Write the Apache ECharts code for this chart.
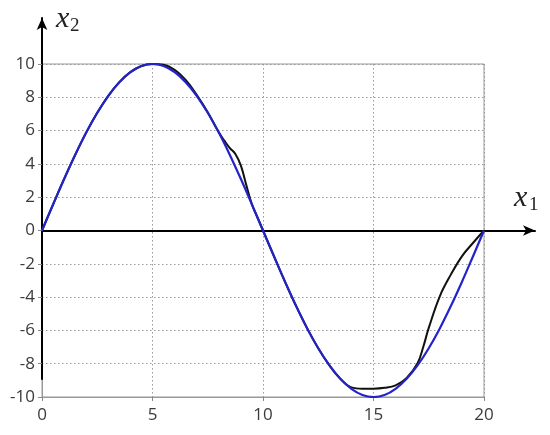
<!DOCTYPE html>
<html>
<head>
<meta charset="utf-8">
<script src="https://cdn.jsdelivr.net/npm/echarts@6/dist/echarts.min.js"></script>
<style>
  html, body { margin: 0; padding: 0; background: #fff; }
  #chart { width: 550px; height: 435px; }
</style>
</head>
<body>
<div id="chart"></div>
<script>
  // blue curve, every 0.5
  var blueX = [0, 0.5, 1, 1.5, 2, 2.5, 3, 3.5, 4, 4.5, 5, 5.5, 6, 6.5, 7, 7.5, 8, 8.5, 9, 9.5,
    10, 10.5, 11, 11.5, 12, 12.5, 13, 13.5, 14, 14.5, 15, 15.5, 16, 16.5, 17, 17.5, 18, 18.5, 19, 19.5, 20];
  var blueY = [0, 1.56, 3.09, 4.54, 5.88, 7.07, 8.09, 8.91, 9.51, 9.88, 10, 9.88, 9.51, 8.91, 8.09, 7.07, 5.88, 4.54, 3.09, 1.56,
    0, -1.56, -3.09, -4.54, -5.88, -7.07, -8.09, -8.91, -9.51, -9.88, -10, -9.88, -9.51, -8.91, -8.09, -7.07, -5.88, -4.54, -3.09, -1.56, 0];

  // black curve
  var blackX = [0, 0.5, 1, 1.5, 2, 2.5, 3, 3.5, 4, 4.5, 5, 5.5, 6, 6.5, 7, 7.5, 8, 8.25, 8.5, 8.75, 9, 9.25, 9.5, 9.75,
    10, 10.5, 11, 11.5, 12, 12.5, 13, 13.5, 14, 14.5, 15, 15.5, 16, 16.5, 17, 17.25, 17.5, 18, 18.5, 19, 19.5, 20];
  var blackY = [0, 1.56, 3.09, 4.54, 5.88, 7.07, 8.09, 8.91, 9.51, 9.88, 10, 9.95, 9.65, 9.05, 8.15, 7.1, 5.9, 5.4, 4.95, 4.6, 3.9, 2.7, 1.56, 0.78,
    0, -1.56, -3.09, -4.54, -5.88, -7.07, -8.09, -8.91, -9.42, -9.5, -9.5, -9.45, -9.3, -8.85, -7.95, -7.0, -5.85, -3.95, -2.65, -1.55, -0.75, 0];

  var xTicks = [0, 5, 10, 15, 20];
  var yTicks = [-10, -8, -6, -4, -2, 0, 2, 4, 6, 8, 10];

  function pairs(xs, ys) {
    var out = [];
    for (var i = 0; i < xs.length; i++) out.push([xs[i], ys[i]]);
    return out;
  }

  var myChart = echarts.init(document.getElementById('chart'));
  var font = 'Open Sans, Noto Sans, sans-serif';
  var dotted = {color: '#999', type: [1.5, 2.5], width: 1};

  var option = {
    animation: false,
    backgroundColor: '#fff',
    grid: [
      {left: 42, right: 66, top: 64, bottom: 38, show: true, borderColor: '#999', borderWidth: 1},
      {left: 42, right: 15, top: 18, bottom: 38},
      {left: 42, width: 1, top: 18, bottom: 56}
    ],
    xAxis: [{
      gridIndex: 0, type: 'value', min: xTicks[0], max: xTicks[xTicks.length - 1], interval: 5,
      position: 'bottom',
      axisLine: {onZero: false, lineStyle: {color: '#999'}},
      axisTick: {show: true, length: 4, lineStyle: {color: '#888'}},
      axisLabel: {color: '#3a3a3a', fontSize: 17, fontFamily: font, margin: 10},
      splitLine: {show: true, lineStyle: dotted}
    }, {
      gridIndex: 1, type: 'value', min: 0, max: 22.31,
      axisLine: {onZero: true, lineStyle: {color: '#000', width: 2}, symbol: ['none', 'arrow'], symbolSize: [8, 12]},
      axisTick: {show: false}, axisLabel: {show: false}, splitLine: {show: false}
    }, {
      gridIndex: 2, type: 'value', show: false
    }],
    yAxis: [{
      gridIndex: 0, type: 'value', min: yTicks[0], max: yTicks[yTicks.length - 1], interval: 2,
      axisLine: {onZero: false, lineStyle: {color: '#999'}},
      axisTick: {show: true, length: 4, lineStyle: {color: '#888'}},
      axisLabel: {color: '#3a3a3a', fontSize: 17, fontFamily: font, margin: 7},
      splitLine: {show: true, lineStyle: dotted}
    }, {
      gridIndex: 1, type: 'value', min: -10, max: 12.76,
      axisLine: {show: false}, axisTick: {show: false}, axisLabel: {show: false}, splitLine: {show: false}
    }, {
      gridIndex: 2, type: 'value', min: 0, max: 1,
      axisLine: {show: true, onZero: false, lineStyle: {color: '#000', width: 2}, symbol: ['none', 'arrow'], symbolSize: [8, 12]},
      axisTick: {show: false}, axisLabel: {show: false}, splitLine: {show: false}
    }],
    graphic: [
      {type: 'text', left: 56, top: 4, style: {text: 'x', font: 'italic 30px "Liberation Serif", serif', fill: '#222'}},
      {type: 'text', left: 70, top: 17, style: {text: '2', font: '19px "Liberation Serif", serif', fill: '#222'}},
      {type: 'text', left: 514, top: 183, style: {text: 'x', font: 'italic 30px "Liberation Serif", serif', fill: '#222'}},
      {type: 'text', left: 529, top: 196, style: {text: '1', font: '19px "Liberation Serif", serif', fill: '#222'}}
    ],
    series: [{
      name: 'black', type: 'line', xAxisIndex: 0, yAxisIndex: 0,
      data: pairs(blackX, blackY), smooth: 0.4, showSymbol: false,
      lineStyle: {color: '#111', width: 2}, z: 3
    }, {
      name: 'blue', type: 'line', xAxisIndex: 0, yAxisIndex: 0,
      data: pairs(blueX, blueY), smooth: 0.4, showSymbol: false,
      lineStyle: {color: '#2323c8', width: 2.2}, z: 4
    }]
  };
  myChart.setOption(option);
</script>
</body>
</html>
